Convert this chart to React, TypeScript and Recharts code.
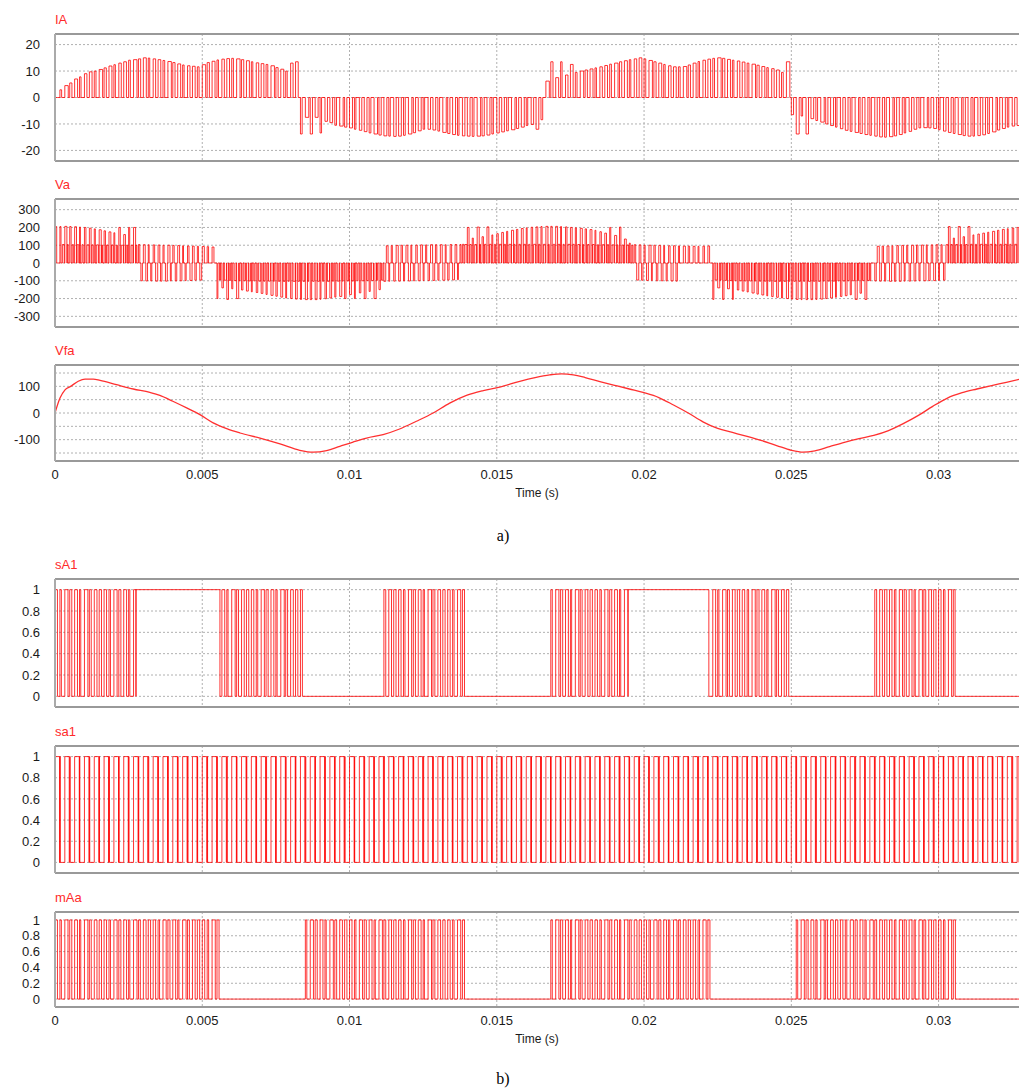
import { LineChart, Line, XAxis, YAxis, CartesianGrid, ReferenceLine } from 'recharts';

// switching period and visible time window, in ms
const SW = 1 / 6;
const T_END = 32.73;

const timeTicks = [0, 0.005, 0.01, 0.015, 0.02, 0.025, 0.03];

// IA: peak current of each switching pulse (one value per period)
const iaPeaks = [
  0, 2.9, 4.5, 5.5, 7, 7.8, 9, 9.7, 10, 10.6, 11.2, 11.9, 12.4, 13, 13.5, 14.1, 14.3, 14.6, 15, 14.9, 14.6, 14.3, 14, 13.6, 13.2,
  12.7, 12.3, 12, 11.8, 11.6, 12.4, 13.2, 13.7, 14.2, 14.5, 14.7, 14.8, 14.6, 14.3, 13.9, 13.5, 13.1, 12.8, 12.5, 12, 11.3, 10.7, 10, 13, 13.5,
  -13.8, -7.5, -13.8, -7.5, -13.4, -9, -9.5, -10.5, -10.8, -11.2, -11.5, -12, -12.4, -12.9, -13.4, -13.8, -14.2, -14.5, -14.6, -14.7, -14.6, -14.3, -13.8, -13.3, -12.6,
  -12, -12, -12.3, -12.7, -13.2, -13.6, -14, -14.3, -14.5, -14.6, -14.7, -14.6, -14.5, -14.2, -13.8, -13.4, -13, -12.6, -12.2, -11.7, -11.2, -10.6, -10.2, -12, -8.4,
  6.2, 13.5, 7.5, 13.5, 8.5, 12.5, 9.5, 10, 10.4, 10.8, 11.2, 11.6, 12.1, 12.6, 13, 13.5, 13.9, 14.3, 14.6, 15, 14.6, 14, 13.5, 13, 12.5,
  12, 11.6, 11.6, 11.7, 12.3, 13, 13.6, 14.1, 14.5, 14.8, 15, 14.8, 14.4, 14.1, 13.8, 13.4, 13, 12.6, 12.2, 11.7, 11.3, 10.9, 10.4, 9.5, 13.5,
  -6.5, -13.8, -7, -13.8, -8, -8.7, -9.3, -10, -10.6, -11.2, -11.8, -12.4, -12.8, -13.2, -13.6, -14, -14.3, -14.6, -14.9, -15, -14.8, -14.5, -14, -13.4,
  -12.8, -12, -11.5, -11.4, -11.5, -11.7, -12.2, -12.7, -13.2, -13.6, -14, -14.4, -14.6, -14.6, -14.4, -14.1, -13.6, -13, -12.3, -11.7, -11.2, -10.8, -10.6,
];
const iaDuty = [0.55, 0.35, 0.7, 0.45, 0.6, 0.3, 0.5];

// Va: level reached in the first and second half of each period
const vaUpper = [
  205, 205, 206, 205, 204, 202, 200, 196, 192, 187, 181, 175, 170, 200, 160, 200, 200,
  104, 103, 103, 102, 101, 100, 100, 99, 98, 97, 96, 95, 94, 93, 92, 90,
  -200, -140, -205, -145, -200, -152, -158, -162, -166, -171, -177, -182, -187, -192, -197, -200, -203,
  -205, -206, -206, -206, -204, -201, -197, -192, -188, -200, -178, -200, -168, -200, -160, -200, -150,
  -103, -103, -102, -102, -101, -101, -100, -100, -99, -99, -98, -97, -97, -96, -95, -94,
  105, 200, 140, 202, 148, 203, 158, 165, 172, 178, 184, 189, 194, 198, 201, 203, 205, 206,
  206, 206, 205, 203, 200, 198, 195, 192, 188, 184, 176, 168, 200, 155, 202, 135, 112,
  103, 102, 101, 100, 100, 99, 98, 97, 97, 96, 95, 95, 94, 94, 95, 96,
  -205, -140, -205, -145, -205, -152, -158, -163, -169, -175, -180, -185, -189, -193, -197, -200,
  -203, -205, -206, -206, -206, -205, -203, -200, -197, -193, -188, -184, -179, -205, -170, -205,
  -100, -101, -102, -102, -103, -103, -103, -102, -102, -101, -100, -100, -99, -99, -98, -97,
  205, 140, 205, 148, 205, 158, 163, 168, 173, 178, 184, 189, 193, 197, 200,
];
const vaLower = [
  0, 104, 104, 103, 103, 103, 102, 102, 102, 101, 101, 101, 100, 100, 100, 100, 100,
  -100, -101, -101, -102, -102, -102, -101, -101, -100, -99, -98, -97, -96, 0, 0, 0,
  -96, -97, -98, -99, -100, -100, -101, -101, -102, -102, -102, -103, -103, -103, -103, -103, -103,
  -103, -103, -103, -103, -103, -103, -102, -102, -102, -101, -101, -100, -100, -99, -99, -98, -97,
  97, 98, 99, 100, 100, 101, 101, 102, 102, 103, 103, 103, 103, 104, 104, 104,
  104, 104, 104, 105, 105, 105, 105, 105, 105, 105, 105, 105, 105, 105, 105, 105, 105, 105,
  105, 105, 105, 105, 105, 104, 104, 104, 104, 103, 103, 103, 102, 102, 101, 101, 100,
  -96, -97, -98, -99, -100, -100, -101, -101, -102, 0, 0, 0, 0, 0, 0, 0,
  -96, -97, -98, -99, -100, -100, -101, -101, -102, -102, -102, -103, -103, -103, -103, -103,
  -103, -103, -103, -103, -103, -103, -102, -102, -102, -101, -101, -100, -100, -99, -99, -98,
  0, 94, 95, 96, 97, 98, 99, 100, 100, 101, 101, 102, 102, 103, 103, 103,
  104, 104, 104, 104, 105, 105, 105, 105, 105, 105, 105, 105, 105, 105, 105,
];
const vaWidths = [0.35, 0.22, 0.42, 0.28, 0.38, 0.18, 0.3];

// Vfa filtered voltage (ms, V)
const vfaTimes = [
  0, 0.17, 0.34, 0.53, 0.79, 1.02, 1.3, 1.53, 2.09, 2.66, 3.22, 3.56, 4.0, 4.47, 4.92, 5.37, 5.83, 6.28, 6.96, 7.64,
  8.31, 8.77, 9.22, 9.67, 10.12, 10.58, 11.14, 11.7, 12.27, 12.84, 13.4, 13.97, 14.54, 15.1, 15.78, 16.3, 16.8, 17.2,
  17.6, 18.0, 18.5, 19.0, 19.5, 20.0, 20.5, 21.0, 21.5, 22.0, 22.5, 23.0, 23.5, 24.0, 24.5, 25.0, 25.4, 25.8, 26.3,
  26.8, 27.3, 27.8, 28.3, 28.8, 29.3, 29.8, 30.3, 30.8, 31.3, 31.8, 32.3, 32.73,
];
const vfaValues = [
  0, 56, 87, 100, 119, 127, 127, 122, 106, 90, 77, 66, 44, 19, -6, -37, -59, -75, -94, -116,
  -140, -147, -141, -125, -109, -94, -81, -60, -31, 0, 37, 66, 84, 97, 119, 133, 143, 147,
  143, 133, 118, 104, 90, 76, 58, 30, 0, -33, -58, -73, -88, -104, -122, -140, -147, -142, -126,
  -110, -96, -84, -66, -40, -10, 25, 56, 76, 90, 103, 115, 126,
];

// gate signals: [start ms, end ms, mode]
type Mode = 'pwm' | 'on' | 'off';
const sA1Segments: [number, number, Mode][] = [
  [0, 2.75, 'pwm'], [2.75, 5.6, 'on'], [5.6, 8.4, 'pwm'], [8.4, 11.15, 'off'],
  [11.15, 13.92, 'pwm'], [13.92, 16.74, 'off'], [16.74, 19.46, 'pwm'], [19.46, 22.2, 'on'],
  [22.2, 24.96, 'pwm'], [24.96, 27.78, 'off'], [27.78, 30.56, 'pwm'], [30.56, T_END, 'off'],
];
const sa1Segments: [number, number, Mode][] = [[0, T_END, 'pwm']];
const mAaSegments: [number, number, Mode][] = [
  [0, 5.57, 'pwm'], [5.57, 8.45, 'off'], [8.45, 13.92, 'pwm'], [13.92, 16.77, 'off'],
  [16.77, 22.27, 'pwm'], [22.27, 25.09, 'off'], [25.09, 30.6, 'pwm'], [30.6, T_END, 'off'],
];
const gateDuty = [0.5, 0.3, 0.65, 0.42, 0.58, 0.25, 0.7, 0.38, 0.55, 0.47];
const sa1Duty = [0.93, 0.07, 0.9, 0.1, 0.94, 0.06, 0.92, 0.08];

type Pt = { t: number; v: number };

// step trace builder: every change is a vertical edge
const stepTrace = () => {
  const pts: Pt[] = [];
  let last = 0;
  const to = (ms: number, v: number) => {
    pts.push({ t: ms / 1000, v: last }, { t: ms / 1000, v });
    last = v;
  };
  const end = () => {
    pts.push({ t: T_END / 1000, v: last });
    return pts;
  };
  return { to, end };
};

const buildIA = () => {
  const s = stepTrace();
  iaPeaks.forEach((a, k) => {
    const t0 = k * SW;
    s.to(t0, a);
    s.to(t0 + iaDuty[k % iaDuty.length] * SW, 0);
  });
  return s.end();
};

const buildVa = () => {
  const s = stepTrace();
  vaUpper.forEach((u, k) => {
    const t0 = k * SW;
    const tm = t0 + SW / 2;
    s.to(t0, u);
    s.to(t0 + vaWidths[k % vaWidths.length] * SW, 0);
    s.to(tm, vaLower[k]);
    s.to(tm + vaWidths[(k + 3) % vaWidths.length] * SW, 0);
  });
  return s.end();
};

const buildGate = (segs: [number, number, Mode][], duty: number[]) => {
  const s = stepTrace();
  segs.forEach(([a, b, mode]) => {
    if (mode !== 'pwm') {
      s.to(a, mode === 'on' ? 1 : 0);
      return;
    }
    s.to(a, 0);
    for (let k = Math.ceil(a / SW - 1e-6); k * SW < b; k++) {
      const t0 = k * SW;
      s.to(t0, 1);
      s.to(Math.min(t0 + duty[k % duty.length] * SW, b), 0);
    }
  });
  return s.end();
};

const iaData = buildIA();
const vaData = buildVa();
const vfaData: Pt[] = vfaTimes.map((ms, i) => ({ t: ms / 1000, v: vfaValues[i] }));
const sA1Data = buildGate(sA1Segments, gateDuty);
const sa1Data = buildGate(sa1Segments, sa1Duty);
const mAaData = buildGate(mAaSegments, gateDuty);

const FONT = '"Liberation Sans", Arial, sans-serif';
const tickStyle = { fill: '#1a1a1a', fontSize: 13, fontFamily: FONT };
const switchTicks = [0, 0.2, 0.4, 0.6, 0.8, 1];

interface PanelProps {
  title: string;
  top: number;
  plotHeight: number;
  data: Pt[];
  domain: [number, number];
  ticks: number[];
  grid?: number[];
  showTime?: boolean;
  smooth?: boolean;
}

const Panel = ({ title, top, plotHeight, data, domain, ticks, grid, showTime, smooth }: PanelProps) => {
  const axisH = showTime ? 30 : 0;
  return (
    <div style={{ position: 'absolute', left: 0, top: top - 2 }}>
      <div style={{ position: 'absolute', left: 55, top: -20, color: '#ff2a2a', fontSize: 13, fontFamily: FONT, lineHeight: '15px' }}>
        {title}
      </div>
      <LineChart width={1020} height={plotHeight + 4 + axisH} data={data} margin={{ top: 2, right: 1, bottom: 2, left: 0 }}>
        <CartesianGrid stroke="#b0b0b0" strokeDasharray="2 2" horizontalValues={grid ?? ticks} verticalValues={timeTicks} />
        <XAxis
          type="number"
          dataKey="t"
          domain={[0, T_END / 1000]}
          ticks={timeTicks}
          interval={0}
          allowDataOverflow
          hide={!showTime}
          height={axisH}
          tickSize={0}
          tickMargin={9}
          axisLine={{ stroke: '#999', strokeWidth: 2 }}
          tick={tickStyle}
        />
        <YAxis
          type="number"
          domain={domain}
          ticks={ticks}
          interval={0}
          allowDataOverflow
          width={55}
          tickSize={0}
          tickMargin={15}
          axisLine={{ stroke: '#aaa', strokeWidth: 2 }}
          tick={tickStyle}
        />
        <Line
          type={smooth ? 'monotone' : 'linear'}
          dataKey="v"
          stroke={smooth ? '#ff3030' : '#ff0000'}
          strokeOpacity={smooth ? 1 : 0.8}
          strokeWidth={smooth ? 1.3 : 1}
          dot={false}
          isAnimationActive={false}
        />
        <ReferenceLine y={domain[1]} stroke="#999" strokeWidth={2} />
        {!showTime && <ReferenceLine y={domain[0]} stroke="#999" strokeWidth={2} />}
      </LineChart>
    </div>
  );
};

const caption = (text: string, top: number) => (
  <div style={{ position: 'absolute', left: 0, width: 1020, top, textAlign: 'center', fontFamily: '"Liberation Serif", serif', fontSize: 16 }}>
    <span style={{ position: 'relative', left: -7 }}>{text}</span>
  </div>
);

const timeLabel = (top: number) => (
  <div style={{ position: 'absolute', left: 55, width: 964, top, textAlign: 'center', fontFamily: FONT, fontSize: 12, color: '#1a1a1a' }}>
    Time (s)
  </div>
);

export default function App() {
  return (
    <div style={{ position: 'absolute', left: 0, top: 0, width: 1020, height: 1092, background: '#fff', overflow: 'hidden' }}>
      <Panel title="IA" top={34} plotHeight={127} data={iaData} domain={[-24, 24]} ticks={[-20, -10, 0, 10, 20]} />
      <Panel title="Va" top={199} plotHeight={128} data={vaData} domain={[-360, 360]} ticks={[-300, -200, -100, 0, 100, 200, 300]} />
      <Panel
        title="Vfa"
        top={365}
        plotHeight={96}
        data={vfaData}
        domain={[-180, 180]}
        ticks={[-100, 0, 100]}
        grid={[-150, -100, -50, 0, 50, 100, 150]}
        showTime
        smooth
      />
      {timeLabel(486)}
      {caption('a)', 527)}
      <Panel title="sA1" top={579} plotHeight={128} data={sA1Data} domain={[-0.1, 1.1]} ticks={switchTicks} />
      <Panel title="sa1" top={746} plotHeight={127} data={sa1Data} domain={[-0.1, 1.1]} ticks={switchTicks} />
      <Panel title="mAa" top={912} plotHeight={95} data={mAaData} domain={[-0.1, 1.1]} ticks={switchTicks} showTime />
      {timeLabel(1032)}
      {caption('b)', 1070)}
    </div>
  );
}
